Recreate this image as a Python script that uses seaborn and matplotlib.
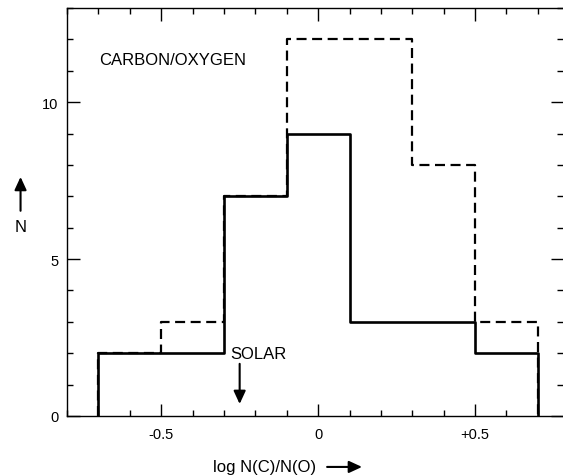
import matplotlib
matplotlib.use("Agg")
import matplotlib.pyplot as plt
from matplotlib.ticker import MultipleLocator, FixedLocator, FixedFormatter
import seaborn as sns
import pandas as pd
import numpy as np

# Data
bin_edges = [-0.7, -0.5, -0.3, -0.1, 0.1, 0.3, 0.5, 0.7]
solid_counts = [2, 2, 7, 9, 3, 3, 2]
dashed_counts = [2, 3, 7, 12, 12, 8, 3]
x_ticks = [-0.5, 0, 0.5]
x_tick_labels = ["-0.5", "0", "+0.5"]
y_ticks = [0, 5, 10]
solar_value = -0.25

sns.set_theme(style="ticks")
plt.rcParams['font.family'] = ['Liberation Sans', 'DejaVu Sans']
plt.rcParams['text.color'] = 'black'
plt.rcParams['xtick.labelcolor'] = 'black'
plt.rcParams['ytick.labelcolor'] = 'black'

def step_frame(edges, counts):
    xs = [edges[0]] + list(edges)
    ys = [0] + list(counts) + [0]
    return pd.DataFrame({"x": xs, "y": ys})

fig = plt.figure(figsize=(5.63, 4.77), dpi=100)
ax = fig.add_axes([0.119, 0.126, 0.881, 0.855])

dfd = step_frame(bin_edges, dashed_counts)
dfs = step_frame(bin_edges, solid_counts)
sns.lineplot(data=dfd, x="x", y="y", ax=ax, sort=False, estimator=None,
             drawstyle="steps-post", color="black", lw=1.6,
             linestyle=(0, (4.5, 2.5)))
sns.lineplot(data=dfs, x="x", y="y", ax=ax, sort=False, estimator=None,
             drawstyle="steps-post", color="black", lw=1.9)

ax.set_xlim(-0.8, 0.78)
ax.set_ylim(0, 13)
ax.set_xlabel("")
ax.set_ylabel("")

ax.xaxis.set_major_locator(FixedLocator(x_ticks))
ax.xaxis.set_major_formatter(FixedFormatter(x_tick_labels))
ax.xaxis.set_minor_locator(MultipleLocator(0.1))
ax.yaxis.set_major_locator(FixedLocator(y_ticks))
ax.yaxis.set_minor_locator(MultipleLocator(1))

ax.tick_params(which="both", direction="in", top=True, right=True,
               color="black", width=1.0, labelcolor="black")
ax.tick_params(which="major", length=9)
ax.tick_params(which="minor", length=4.5)
ax.tick_params(axis="x", which="major", pad=8, labelsize=10.5)
ax.tick_params(axis="y", which="major", pad=6, labelsize=10.5)

for side in ["left", "bottom", "top", "right"]:
    ax.spines[side].set_color("black")
    ax.spines[side].set_linewidth(1.0)
ax.spines["right"].set_visible(False)

arrow_kw = dict(arrowstyle="-|>,head_length=0.65,head_width=0.3",
                color="black", lw=1.5, shrinkA=0, shrinkB=0)

ax.text(-0.697, 11.37, "CARBON/OXYGEN", fontsize=12, va="center", ha="left")
ax.text(-0.281, 1.98, "SOLAR", fontsize=12, va="center", ha="left")
ax.annotate("", xy=(solar_value, 0.38), xytext=(solar_value, 1.66),
            arrowprops=arrow_kw)

fig.text(0.0365, 0.524, "N", fontsize=12, ha="center", va="center")
ax.annotate("", xy=(0.0365, 0.627), xycoords="figure fraction",
            xytext=(0.0365, 0.556), textcoords="figure fraction",
            arrowprops=arrow_kw)

fig.text(0.378, 0.019, "log N(C)/N(O)", fontsize=12, ha="left", va="center")
ax.annotate("", xy=(0.643, 0.019), xycoords="figure fraction",
            xytext=(0.581, 0.019), textcoords="figure fraction",
            arrowprops=arrow_kw)

fig.savefig("out.png", dpi=100)
